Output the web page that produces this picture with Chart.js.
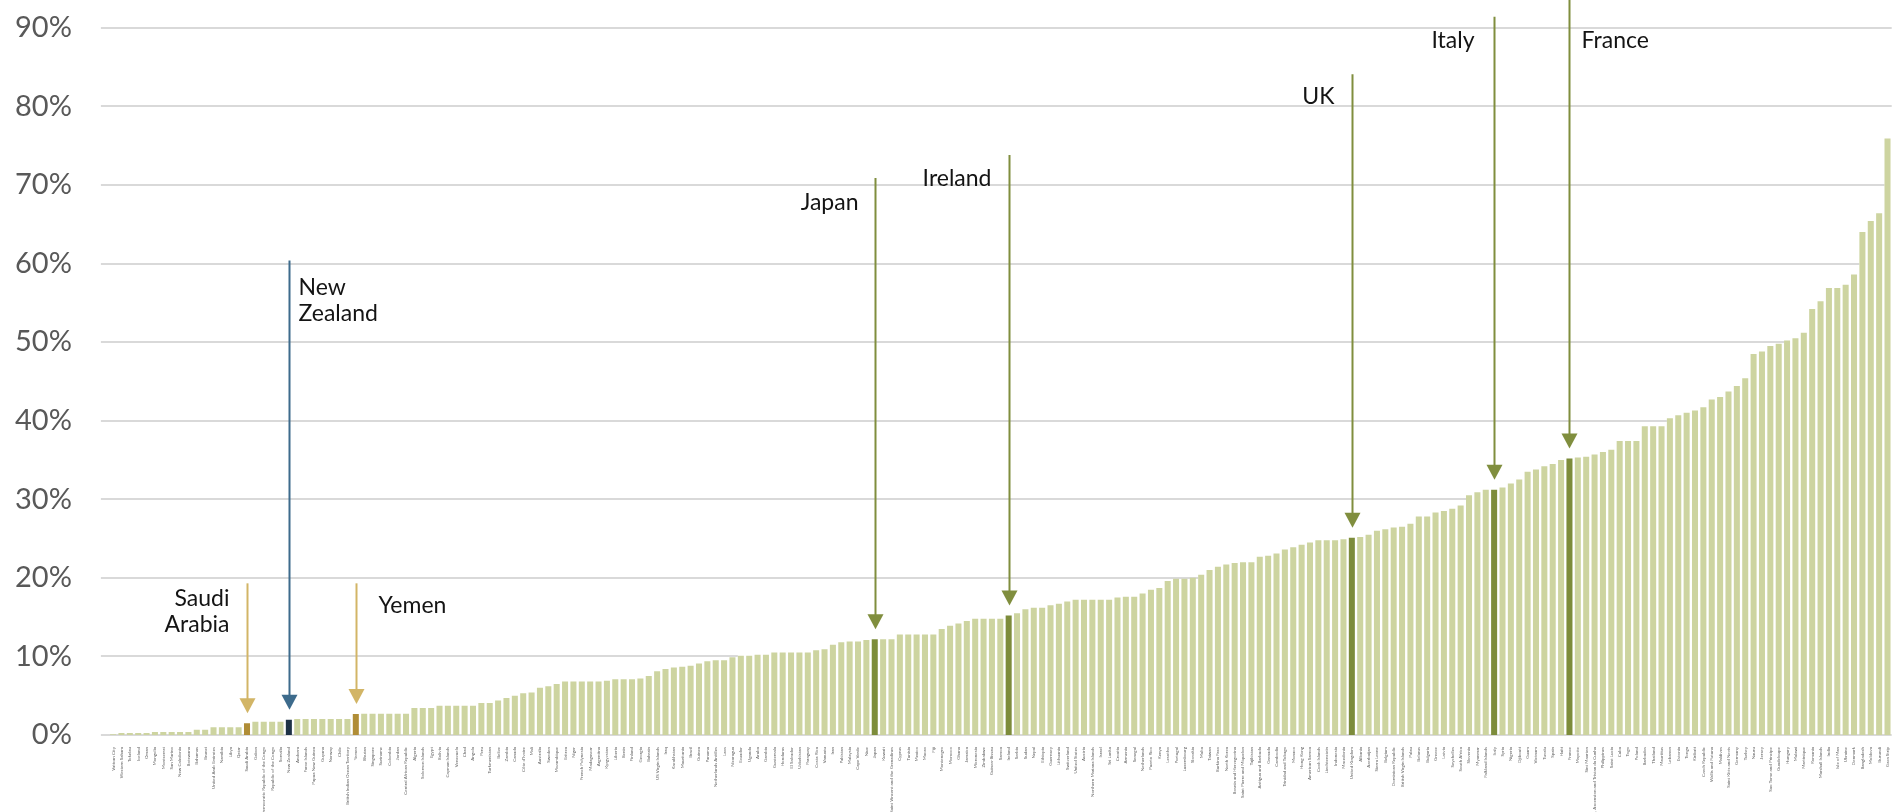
<!DOCTYPE html>
<html>
<head>
<meta charset="utf-8">
<title>Arable land by country</title>
<script src="https://cdn.jsdelivr.net/npm/chart.js@4.4.1/dist/chart.umd.min.js"></script>
<style>
  html, body { margin: 0; padding: 0; background: #ffffff; }
  #wrap { width: 1898px; height: 812px; }
  canvas { display: block; }
</style>
</head>
<body>
<div id="wrap"><canvas id="chart" width="1898" height="812"></canvas></div>
<script>
// Countries, sorted from lowest to highest share
const countries = [
  "Vatican City","Western Sahara","Tokelau","Iceland","Oman","Mongolia","Montserrat","San Marino","New Caledonia","Botswana",
  "Bahamas","Brunei","United Arab Emirates","Namibia","Libya","Qatar","Saudi Arabia","Gabon","Democratic Republic of the Congo","Republic of the Congo",
  "Somalia","New Zealand","Andorra","Faroe Islands","Papua New Guinea","Guyana","Norway","Chile","British Indian Ocean Territory","Yemen",
  "Bhutan","Singapore","Suriname","Colombia","Jordan","Central African Republic","Algeria","Solomon Islands","Egypt","Bolivia",
  "Cayman Islands","Venezuela","Chad","Angola","Peru","Turkmenistan","Belize","Zambia","Canada","Côte d'Ivoire",
  "Mali","Australia","Sweden","Mozambique","Eritrea","Niger","French Polynesia","Madagascar","Argentina","Kyrgyzstan",
  "Liberia","Benin","Finland","Georgia","Bahrain","US Virgin Islands","Iraq","Kazakhstan","Mauritania","Brazil",
  "Guinea","Panama","Netherlands Antilles","Laos","Nicaragua","Ecuador","Uganda","Aruba","Gambia","Guatemala",
  "Honduras","El Salvador","Uzbekistan","Paraguay","Costa Rica","Vanuatu","Iran","Pakistan","Malaysia","Cape Verde",
  "Niue","Japan","Kuwait","Saint Vincent and the Grenadines","Cyprus","Tunisia","Mexico","Macao","Fiji","Montenegro",
  "Morocco","Ghana","Jamaica","Micronesia","Zimbabwe","Guinea-Bissau","Samoa","Ireland","Serbia","Sudan",
  "Nepal","Ethiopia","Guernsey","Lithuania","Switzerland","United States","Austria","Northern Mariana Islands","Israel","Sri Lanka",
  "Croatia","Armenia","Senegal","Netherlands","Puerto Rico","Kenya","Lesotho","Portugal","Luxembourg","Slovakia",
  "Malta","Taiwan","Burkina Faso","North Korea","Bosnia and Herzegovina","Saint Pierre and Miquelon","Tajikistan","Antigua and Barbuda","Grenada",
  "Cambodia","Trinidad and Tobago","Monaco","Hong Kong","American Samoa","Cook Islands","Liechtenstein","Indonesia","Macedonia","United Kingdom",
  "Albania","Azerbaijan","Sierra Leone","Belgium","Dominican Republic","British Virgin Islands","Palau","Belarus","Bulgaria","Greece",
  "Latvia","Seychelles","South Africa","Slovenia","Myanmar","Falkland Islands","Italy","Syria","Nigeria","Djibouti",
  "Guam","Vietnam","Tuvalu","Spain","Haiti","France","Mayotte","Sint Maarten","Saint Helena, Ascension and Tristan da Cunha","Philippines",
  "Saint Lucia","Cuba","Togo","Poland","Barbados","Thailand","Mauritius","Lebanon","Estonia","Tonga",
  "Kiribati","Czech Republic","Wallis and Futuna","Maldives","Saint Kitts and Nevis","Germany","Turkey","Nauru","Jersey","Sao Tome and Principe",
  "Guadeloupe","Hungary","Malawi","Martinique","Romania","Marshall Islands","India","Isle of Man","Ukraine","Denmark",
  "Bangladesh","Moldova","Burundi","Gaza Strip"
];

// Share of land area, percent
const shares = [
  0.1, 0.25, 0.25, 0.25, 0.25, 0.38, 0.38, 0.38, 0.38, 0.38,
  0.68, 0.68, 1.0, 1.0, 1.0, 1.0, 1.48, 1.7, 1.7, 1.7,
  1.7, 1.95, 2.03, 2.03, 2.03, 2.03, 2.03, 2.03, 2.03, 2.67,
  2.7, 2.7, 2.7, 2.7, 2.7, 2.7, 3.43, 3.43, 3.43, 3.73,
  3.73, 3.73, 3.73, 3.73, 4.07, 4.07, 4.4, 4.7, 5.0, 5.3,
  5.4, 6.0, 6.2, 6.5, 6.8, 6.8, 6.8, 6.8, 6.8, 6.9,
  7.1, 7.1, 7.1, 7.2, 7.5, 8.1, 8.4, 8.6, 8.7, 8.8,
  9.1, 9.4, 9.5, 9.5, 9.9, 10.1, 10.1, 10.2, 10.2, 10.5,
  10.5, 10.5, 10.5, 10.5, 10.8, 10.9, 11.5, 11.8, 11.9, 11.9,
  12.1, 12.2, 12.2, 12.2, 12.8, 12.8, 12.8, 12.8, 12.8, 13.5,
  13.9, 14.2, 14.5, 14.8, 14.8, 14.8, 14.8, 15.2, 15.5, 16.0,
  16.2, 16.2, 16.5, 16.7, 17.0, 17.2, 17.2, 17.2, 17.2, 17.2,
  17.5, 17.6, 17.6, 18.0, 18.5, 18.7, 19.6, 19.9, 19.9,
  20.0, 20.4, 21.0, 21.4, 21.7, 21.9, 22.0, 22.0, 22.7, 22.8,
  23.1, 23.6, 23.9, 24.2, 24.5, 24.8, 24.8, 24.8, 24.9, 25.1,
  25.2, 25.5, 26.0, 26.2, 26.4, 26.5, 26.9, 27.8, 27.8, 28.3,
  28.5, 28.8, 29.2, 30.5, 30.9, 31.2, 31.2, 31.5, 32.0, 32.5,
  33.5, 33.8, 34.2, 34.5, 35.0, 35.2, 35.3, 35.4, 35.7, 36.0,
  36.3, 37.4, 37.4, 37.4, 39.3, 39.3, 39.3, 40.3, 40.7, 41.0,
  41.3, 41.7, 42.7, 43.0, 43.7, 44.4, 45.4, 48.5, 48.8, 49.5,
  49.8, 50.2, 50.5, 51.2, 54.2, 55.2, 56.9, 56.9, 57.3, 58.6,
  64.0, 65.4, 66.4, 75.9
];

// Y axis ticks
const yTicks = [0, 10, 20, 30, 40, 50, 60, 70, 80, 90];

// Called-out countries: arrow starts at lineTop (in %) and points down at the bar
const callouts = [
  { country: "Saudi Arabia",   lines: ["Saudi", "Arabia"], lineTop: 19.3, side: "left",  dx: 18, textY: [17.4, 14.0], group: "gulf" },
  { country: "New Zealand",    lines: ["New", "Zealand"],  lineTop: 60.4, side: "right", dx: 9,  textY: [56.9, 53.6], group: "nz" },
  { country: "Yemen",          lines: ["Yemen"],           lineTop: 19.3, side: "right", dx: 22, textY: [16.5],       group: "gulf" },
  { country: "Japan",          lines: ["Japan"],           lineTop: 70.9, side: "left",  dx: 17, textY: [67.7],       group: "olive" },
  { country: "Ireland",        lines: ["Ireland"],         lineTop: 73.8, side: "left",  dx: 18, textY: [70.8],       group: "olive" },
  { country: "United Kingdom", lines: ["UK"],              lineTop: 84.1, side: "left",  dx: 18, textY: [81.2],       group: "olive" },
  { country: "Italy",          lines: ["Italy"],           lineTop: 91.4, side: "left",  dx: 20, textY: [88.4],       group: "olive" },
  { country: "France",         lines: ["France"],          lineTop: 96.0, side: "right", dx: 12, textY: [88.4],       group: "olive" }
];

const palette = {
  base:  "#CDD4A0",
  grid:  "#d9d9d9",
  olive: { bar: "#7D8C3B", arrow: "#808E3E" },
  gulf:  { bar: "#B08D36", arrow: "#D2B566" },
  nz:    { bar: "#1E3246", arrow: "#3D6B8C" }
};

const barColors = countries.map(name => {
  const c = callouts.find(k => k.country === name);
  return c ? palette[c.group].bar : palette.base;
});

// Horizontal guides: each one stops where the bars first rise above it
const guidePlugin = {
  id: "guides",
  beforeDatasetsDraw(chart) {
    const { ctx, chartArea, scales: { y } } = chart;
    const bars = chart.getDatasetMeta(0).data;
    ctx.save();
    ctx.strokeStyle = palette.grid;
    ctx.lineWidth = 2;
    yTicks.forEach(v => {
      const py = Math.round(y.getPixelForValue(v));
      let end = chartArea.right;
      if (v > 0) {
        const first = shares.findIndex(s => s > v);
        if (first >= 0) end = bars[first].x - bars[first].width / 2;
      }
      ctx.beginPath();
      ctx.moveTo(chartArea.left - 8, py);
      ctx.lineTo(end, py);
      ctx.stroke();
    });
    ctx.restore();
  }
};

const calloutPlugin = {
  id: "callouts",
  afterDatasetsDraw(chart) {
    const { ctx, scales: { x, y } } = chart;
    ctx.save();
    callouts.forEach(c => {
      const idx = countries.indexOf(c.country);
      if (idx < 0) return;
      const col = palette[c.group].arrow;
      const px = Math.round(x.getPixelForValue(idx)) + 0.5;
      const tip = y.getPixelForValue(shares[idx]) - 10;
      const top = y.getPixelForValue(c.lineTop);
      const head = 15, half = 8;
      ctx.strokeStyle = col;
      ctx.lineWidth = 2;
      ctx.beginPath();
      ctx.moveTo(px, top);
      ctx.lineTo(px, tip - head + 1);
      ctx.stroke();
      ctx.fillStyle = col;
      ctx.beginPath();
      ctx.moveTo(px - half, tip - head);
      ctx.lineTo(px + half, tip - head);
      ctx.lineTo(px, tip);
      ctx.closePath();
      ctx.fill();

      ctx.fillStyle = "#141414";
      ctx.font = "23px Lato";
      ctx.textBaseline = "middle";
      ctx.textAlign = c.side === "left" ? "right" : "left";
      const tx = c.side === "left" ? px - c.dx : px + c.dx;
      c.lines.forEach((t, i) => ctx.fillText(t, tx, y.getPixelForValue(c.textY[i])));
    });
    ctx.restore();
  }
};

new Chart(document.getElementById("chart"), {
  type: "bar",
  data: {
    labels: countries,
    datasets: [{
      data: shares,
      backgroundColor: barColors,
      borderWidth: 0,
      barPercentage: 0.72,
      categoryPercentage: 1.0
    }]
  },
  options: {
    responsive: false,
    animation: false,
    devicePixelRatio: 1,
    layout: { padding: { top: 27.8, left: 13.9, right: 6.3, bottom: 0 } },
    plugins: { legend: { display: false }, tooltip: { enabled: false } },
    scales: {
      x: {
        grid: { display: false },
        border: { display: false },
        ticks: {
          autoSkip: false,
          minRotation: 90,
          maxRotation: 90,
          padding: 4,
          color: "#666666",
          font: { family: "Lato", size: 4.5 }
        },
        afterFit(axis) {
          axis.height = 77;
          axis.paddingLeft = 0; axis.paddingRight = 0;
          axis.paddingTop = 0; axis.paddingBottom = 0;
        }
      },
      y: {
        min: 0,
        max: 90,
        afterBuildTicks(axis) { axis.ticks = yTicks.map(v => ({ value: v })); },
        grid: { display: false },
        border: { display: false },
        ticks: {
          padding: 29,
          color: "#595959",
          font: { family: "Lato", size: 29 },
          callback: v => v + "%"
        },
        afterFit(axis) {
          axis.width = 95;
          axis.paddingTop = 0; axis.paddingBottom = 0;
          axis.paddingLeft = 0; axis.paddingRight = 0;
        }
      }
    }
  },
  plugins: [guidePlugin, calloutPlugin]
});
</script>
</body>
</html>
